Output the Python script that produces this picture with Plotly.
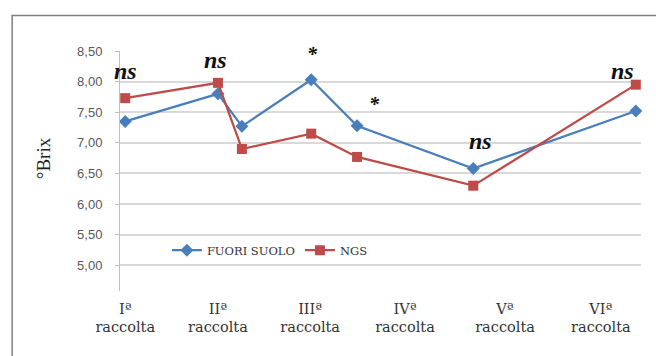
import plotly.graph_objects as go

# Sampling positions along the season (relative scale 0-100)
sample_pos = [1.0, 18.8, 23.4, 36.7, 45.5, 67.8, 99.0]
fuori_suolo = [7.35, 7.80, 7.27, 8.03, 7.28, 6.58, 7.52]
ngs = [7.73, 7.98, 6.90, 7.15, 6.77, 6.30, 7.95]

# Harvest labels on the x axis
harvest_pos = [1.0, 18.8, 36.5, 54.7, 73.9, 92.3]
harvest_labels = ["Iª<br>raccolta", "IIª<br>raccolta", "IIIª<br>raccolta",
                  "IVª<br>raccolta", "Vª<br>raccolta", "VIª<br>raccolta"]

# Significance marks
sig_x = [1.0, 18.4, 36.9, 48.9, 69.1, 96.5]
sig_y = [8.18, 8.35, 8.45, 7.63, 7.03, 8.18]
sig_text = ["ns", "ns", "*", "*", "ns", "ns"]

y_ticks = [5.0, 5.5, 6.0, 6.5, 7.0, 7.5, 8.0, 8.5]

BLUE = "#4A7EBB"
RED = "#BE4B48"
SERIF = "DejaVu Serif"

fig = go.Figure()
fig.add_trace(go.Scatter(
    x=sample_pos, y=fuori_suolo, name="FUORI SUOLO", mode="lines+markers",
    line=dict(color=BLUE, width=2.2),
    marker=dict(symbol="diamond", size=10, color=BLUE),
    cliponaxis=False,
))
fig.add_trace(go.Scatter(
    x=sample_pos, y=ngs, name="NGS", mode="lines+markers",
    line=dict(color=RED, width=2.2),
    marker=dict(symbol="square", size=10, color=RED),
    cliponaxis=False,
))

for x, y, t in zip(sig_x, sig_y, sig_text):
    fig.add_annotation(
        x=x, y=y, text=f"<b><i>{t}</i></b>", showarrow=False,
        font=dict(family="Liberation Serif", size=24 if t == "ns" else 20, color="#111111"),
    )

# Y axis title
fig.add_annotation(
    xref="paper", yref="paper", x=-0.123, y=0.555, xanchor="right", text="°Brix",
    textangle=-90, showarrow=False,
    font=dict(family="Liberation Serif", size=19, color="#222222"),
)

# Outer frame of the figure
fig.add_shape(type="rect", xref="paper", yref="paper",
              x0=-0.207, x1=1.2, y0=-1.0, y1=1.148,
              line=dict(color="#7f7f7f", width=1.5), layer="below")

fig.update_layout(
    width=656, height=356,
    margin=dict(l=120, r=15, t=51, b=65),
    paper_bgcolor="white", plot_bgcolor="white",
    separators=",.",
    showlegend=True,
    legend=dict(orientation="h", x=0.09, y=0.17, xanchor="left", yanchor="middle",
                bgcolor="rgba(0,0,0,0)",
                font=dict(family=SERIF, size=11.5, color="#333333"),
                itemwidth=30, tracegroupgap=0),
    xaxis=dict(range=[0, 100], tickmode="array", tickvals=harvest_pos,
               ticktext=harvest_labels, showgrid=False, zeroline=False,
               showline=False, ticks="", ticklabelstandoff=7,
               tickfont=dict(family=SERIF, size=14.5, color="#333333")),
    yaxis=dict(range=[4.58, 8.5], tickmode="array", tickvals=y_ticks,
               tickformat=".2f", showgrid=True, gridcolor="#d9d9d9", gridwidth=1.5,
               zeroline=False, showline=True, linecolor="#bfbfbf", linewidth=1,
               ticks="outside", ticklen=4, tickcolor="#bfbfbf", ticklabelstandoff=10,
               tickfont=dict(family="Liberation Sans", size=13, color="#595959")),
)

fig.write_html("out.html")
